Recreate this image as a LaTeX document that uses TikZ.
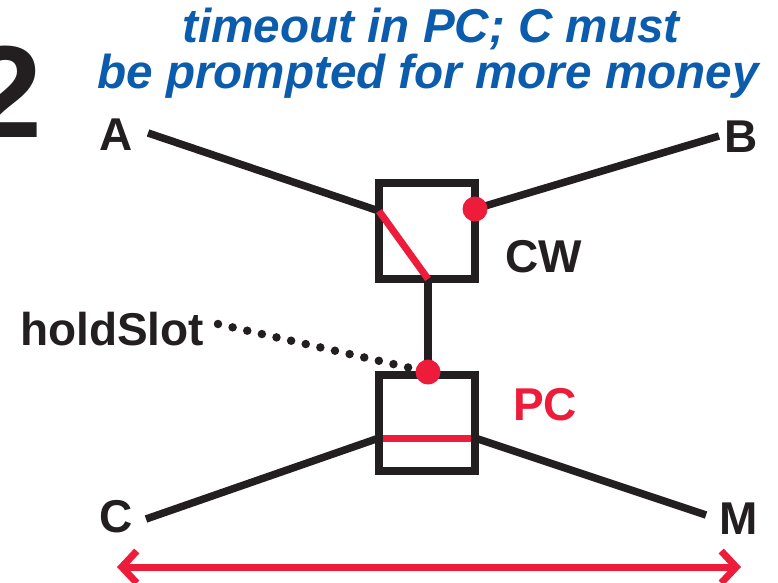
\documentclass[tikz,border=0pt]{standalone}
\usepackage{fontspec}
\setmainfont{Liberation Sans}
\usetikzlibrary{arrows.meta}
\definecolor{ink}{HTML}{231F20}
\definecolor{sigred}{HTML}{EC1C3A}
\definecolor{titleblue}{HTML}{0B5CAD}

\begin{document}
\begin{tikzpicture}[x=1pt,y=-1pt,
  lbl/.style={font=\fontsize{46}{50}\selectfont\bfseries, text=ink, inner sep=0pt},
  ttl/.style={font=\fontsize{47.6}{50}\selectfont\bfseries\itshape, text=titleblue, inner sep=0pt, anchor=base},
  wire/.style={draw=ink, line width=7.5pt},
  sig/.style={draw=sigred, line width=7pt},
  slotbox/.style={draw=ink, line width=7.5pt, minimum width=96pt, minimum height=96pt, inner sep=0pt},
  dot/.style={circle, fill=sigred, minimum size=25pt, inner sep=0pt},
  barb/.tip={Straight Barb[length=15pt,width=32pt]},
]
\useasboundingbox (0,0) rectangle (778,582);
\clip (0,0) rectangle (778,582);

% step number and heading
\node[font=\fontsize{131}{131}\selectfont\bfseries, text=ink, anchor=base west, inner sep=0pt] (num) at (-31,137) {2};
\node[ttl] (t1) at (431,42) {timeout in PC; C must};
\node[ttl] (t2) at (428,88) {be prompted for more money};

% endpoint labels
\node[lbl, anchor=base] (A) at (116,150) {A};
\node[lbl, anchor=base] (B) at (741,152) {B};
\node[lbl, anchor=base] (C) at (116,532) {C};
\node[lbl, anchor=base] (M) at (739,534) {M};
\node[lbl, anchor=base west] (cwl) at (505,272) {CW};
\node[lbl, anchor=base west, text=sigred] (pcl) at (513,420) {PC};
\node[lbl, anchor=base west] (hs) at (20,345) {holdSlot};

% wire ends and box ports
\coordinate (aend) at (148,133);
\coordinate (bend) at (719,136);
\coordinate (cend) at (146,519);
\coordinate (mend) at (706,515);
\coordinate (cwin) at (379,211);
\coordinate (cwout) at (428,279);
\coordinate (pcin) at (379,438);
\coordinate (pcout) at (475,438);
\coordinate (hsend) at (218,324);

\coordinate (cwc) at (427,231);
\coordinate (pcc) at (427,423);

% wires
\draw[wire] (aend) -- (cwin);
\draw[wire] (bend) -- (475,209);
\draw[wire] (cend) -- (pcin);
\draw[wire] (pcout) -- (mend);
\draw[wire] (cwout) -- (428,372);

% hold slot pointer
\draw[ink, line width=8.5pt, line cap=round, dash pattern=on 0pt off 15pt] (hsend) -- (428,372);

% PC connection bar sits under the box outline
\draw[sig] (pcin) -- (pcout);

% the two switches
\node[slotbox] (cw) at (cwc) {};
\node[slotbox] (pc) at (pcc) {};

% CW internal connection
\draw[sig] (cwin) -- (cwout);

% slot dots
\node[dot] (cwdot) at (475,209) {};
\node[dot] (pcdot) at (428,372) {};

% span arrow
\coordinate (ll) at (117,567);
\coordinate (rr) at (741,567);
\draw[sig, barb-barb] (ll) -- (rr);
\end{tikzpicture}
\end{document}
